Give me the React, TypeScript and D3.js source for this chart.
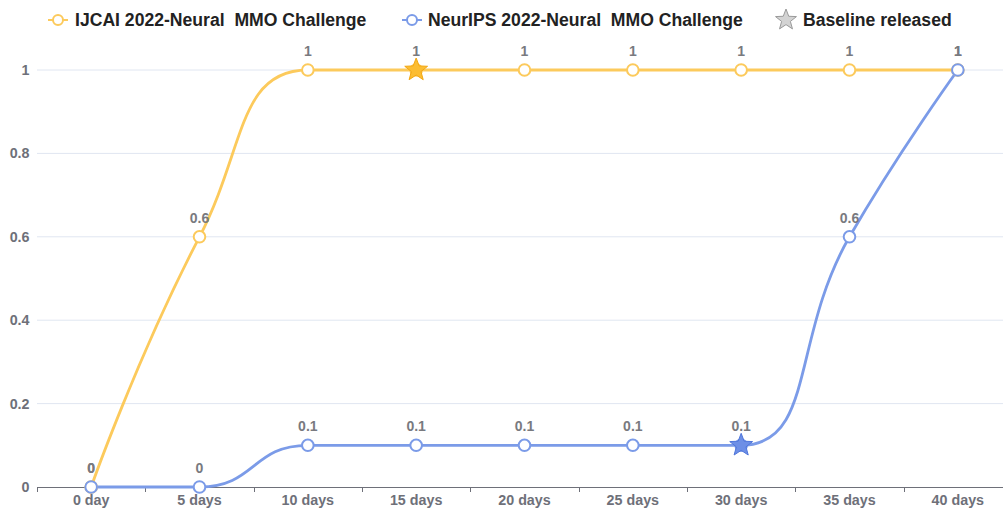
import React from "react";
import * as d3 from "d3";

const categories = ["0 day", "5 days", "10 days", "15 days", "20 days", "25 days", "30 days", "35 days", "40 days"];
const ijcaiValues = [0, 0.6, 1, 1, 1, 1, 1, 1, 1];
const neuripsValues = [0, 0, 0.1, 0.1, 0.1, 0.1, 0.1, 0.6, 1];
const yTicks = [0, 0.2, 0.4, 0.6, 0.8, 1];
const seriesNames = ["IJCAI 2022-Neural  MMO Challenge", "NeurIPS 2022-Neural  MMO Challenge"];
const baselineName = "Baseline released";
const baselineIJCAI = { cat: "15 days", value: 1 };
const baselineNeurIPS = { cat: "30 days", value: 0.1 };

const W = 1003;
const H = 510;
const YELLOW = "#fcca5c";
const BLUE = "#7b9be8";
const AXIS = "#6e7079";
const FONT = "'Liberation Sans', Arial, sans-serif";

// ECharts-like smooth line (smooth = 0.5)
function smoothPath(pts: [number, number][], smooth = 0.5): string {
  const p = d3.path();
  let prevX = 0, prevY = 0, cpx0 = 0, cpy0 = 0, cpx1 = 0, cpy1 = 0;
  const n = pts.length;
  for (let k = 0; k < n; k++) {
    const [x, y] = pts[k];
    if (k === 0) {
      p.moveTo(x, y);
      cpx0 = x; cpy0 = y;
    } else {
      let nextCpx0 = x, nextCpy0 = y;
      if (k + 1 >= n) {
        cpx1 = x; cpy1 = y;
      } else {
        const [nextX, nextY] = pts[k + 1];
        let vx = nextX - prevX;
        let vy = nextY - prevY;
        const dx0 = x - prevX, dx1 = nextX - x, dy0 = y - prevY, dy1 = nextY - y;
        const lenPrev = Math.sqrt(dx0 * dx0 + dy0 * dy0);
        const lenNext = Math.sqrt(dx1 * dx1 + dy1 * dy1);
        const ratio = lenNext / (lenNext + lenPrev);
        nextCpx0 = x + vx * smooth * ratio;
        nextCpy0 = y + vy * smooth * ratio;
        nextCpx0 = Math.min(nextCpx0, Math.max(nextX, x));
        nextCpy0 = Math.min(nextCpy0, Math.max(nextY, y));
        nextCpx0 = Math.max(nextCpx0, Math.min(nextX, x));
        nextCpy0 = Math.max(nextCpy0, Math.min(nextY, y));
        vx = nextCpx0 - x;
        vy = nextCpy0 - y;
        cpx1 = x - vx * lenPrev / lenNext;
        cpy1 = y - vy * lenPrev / lenNext;
        cpx1 = Math.min(cpx1, Math.max(prevX, x));
        cpy1 = Math.min(cpy1, Math.max(prevY, y));
        cpx1 = Math.max(cpx1, Math.min(prevX, x));
        cpy1 = Math.max(cpy1, Math.min(prevY, y));
        vx = x - cpx1;
        vy = y - cpy1;
        nextCpx0 = x + vx * lenNext / lenPrev;
        nextCpy0 = y + vy * lenNext / lenPrev;
      }
      p.bezierCurveTo(cpx0, cpy0, cpx1, cpy1, x, y);
      cpx0 = nextCpx0; cpy0 = nextCpy0;
    }
    prevX = x; prevY = y;
  }
  return p.toString();
}

function starPath(cx: number, cy: number, R: number): string {
  const r = R * 0.42;
  const pts: string[] = [];
  for (let i = 0; i < 10; i++) {
    const a = -Math.PI / 2 + (i * Math.PI) / 5;
    const rr = i % 2 === 0 ? R : r;
    pts.push(`${(cx + rr * Math.cos(a)).toFixed(2)},${(cy + rr * Math.sin(a)).toFixed(2)}`);
  }
  return "M" + pts.join("L") + "Z";
}

export default function App() {
  const x = d3.scalePoint<string>().domain(categories).range([37, 1012]).padding(0.5);
  const step = x.step();
  const y = d3.scaleLinear().domain([0, 1]).range([487, 70]);
  const left = 37, right = 1012;

  const series = [
    { name: seriesNames[0], values: ijcaiValues, color: YELLOW },
    { name: seriesNames[1], values: neuripsValues, color: BLUE },
  ];

  const boundaries = d3.range(categories.length + 1).map((i) => left + i * step);

  return (
    <svg width={W} height={H} style={{ position: "absolute", left: 0, top: 0, background: "#fff" }} fontFamily={FONT}>
      {/* grid */}
      {yTicks.filter((t) => t !== 0).map((t) => (
        <line key={t} x1={left} x2={right} y1={y(t)} y2={y(t)} stroke="#e0e6f1" strokeWidth={1} />
      ))}
      {/* y labels */}
      {yTicks.map((t) => (
        <text key={t} x={29.5} y={y(t)} dy="0.35em" textAnchor="end" fontSize={14.3} fontWeight="bold" fill={AXIS}>
          {String(t)}
        </text>
      ))}
      {/* x axis */}
      <line x1={left} x2={right} y1={y(0) + 0.5} y2={y(0) + 0.5} stroke={AXIS} strokeWidth={1} />
      {boundaries.map((b, i) => (
        <line key={i} x1={Math.round(b) + 0.5} x2={Math.round(b) + 0.5} y1={y(0)} y2={y(0) + 5} stroke={AXIS} strokeWidth={1} />
      ))}
      {categories.map((c) => (
        <text key={c} x={x(c)} y={505} textAnchor="middle" fontSize={14.3} fontWeight="bold" fill={AXIS}>
          {c}
        </text>
      ))}
      {/* lines */}
      {series.map((s) => (
        <path
          key={s.name}
          d={smoothPath(s.values.map((v, i) => [x(categories[i])!, y(v)] as [number, number]))}
          fill="none"
          stroke={s.color}
          strokeWidth={2.8}
        />
      ))}
      {/* markers */}
      {series.map((s) =>
        s.values.map((v, i) => (
          <circle key={s.name + i} cx={x(categories[i])} cy={y(v)} r={5.8} fill="#fff" stroke={s.color} strokeWidth={2} />
        ))
      )}
      {/* stars */}
      <path d={starPath(x(baselineIJCAI.cat)!, y(baselineIJCAI.value), 12)} fill="#fcbd32" stroke="#f3a712" strokeWidth={1} />
      <path d={starPath(x(baselineNeurIPS.cat)!, y(baselineNeurIPS.value), 12)} fill="#6d8fe6" stroke="#4f76db" strokeWidth={1} />
      {/* data labels */}
      {series.map((s) =>
        s.values.map((v, i) => (
          <text key={"l" + s.name + i} x={x(categories[i])} y={y(v) - 14} textAnchor="middle" fontSize={14} fontWeight="bold" fill="#797a7f">
            {String(v)}
          </text>
        ))
      )}
      {/* legend */}
      <g>
        <line x1={48} x2={68} y1={20} y2={20} stroke={YELLOW} strokeWidth={2} />
        <circle cx={58} cy={20} r={5} fill="#fff" stroke={YELLOW} strokeWidth={2} />
        <text x={75} y={20} dy="0.35em" fontSize={17.6} fontWeight="bold" fill="#222" style={{ whiteSpace: "pre" }}>
          {seriesNames[0]}
        </text>
        <line x1={402} x2={422} y1={20} y2={20} stroke={BLUE} strokeWidth={2} />
        <circle cx={412} cy={20} r={5} fill="#fff" stroke={BLUE} strokeWidth={2} />
        <text x={428} y={20} dy="0.35em" fontSize={17.6} fontWeight="bold" fill="#222" style={{ whiteSpace: "pre" }}>
          {seriesNames[1]}
        </text>
        <path d={starPath(786, 20, 11)} fill="#d3d3d3" stroke="#9a9a9a" strokeWidth={1} />
        <text x={803} y={20} dy="0.35em" fontSize={17.6} fontWeight="bold" fill="#222">
          {baselineName}
        </text>
      </g>
    </svg>
  );
}
